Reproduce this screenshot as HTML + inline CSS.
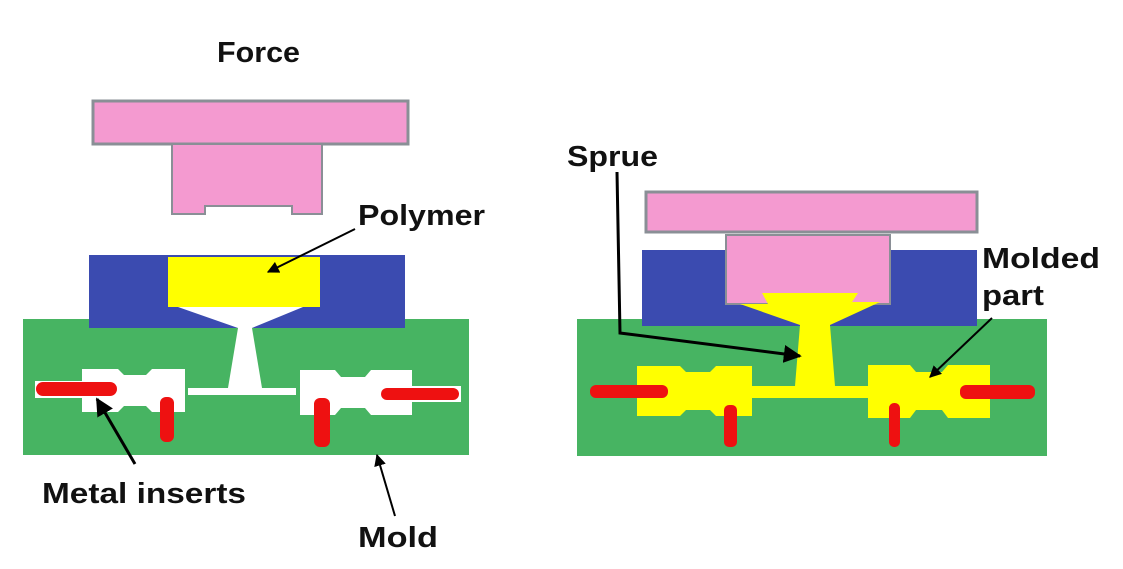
<!DOCTYPE html>
<html><head><meta charset="utf-8"><style>
html,body{margin:0;padding:0;background:#fff;width:1123px;height:569px;overflow:hidden}
svg{display:block}
text{font-family:"Liberation Sans",sans-serif;font-weight:bold;font-size:29px;fill:#111}
</style></head><body>
<svg width="1123" height="569" viewBox="0 0 1123 569">
<defs>
<marker id="ah" viewBox="0 0 10 10" refX="9" refY="5" markerWidth="6" markerHeight="6" orient="auto"><path d="M0,0L10,5L0,10z" fill="#000"/></marker>
</defs>
<!-- LEFT -->
<rect x="93" y="101" width="315" height="43" fill="#f49ad0" stroke="#8a8f96" stroke-width="3"/>
<path d="M172,144H322V214H292V206H205V214H172Z" fill="#f49ad0" stroke="#8a8f96" stroke-width="2"/>
<rect x="23" y="319" width="446" height="136" fill="#47b462"/>
<rect x="89" y="255" width="316" height="73" fill="#3b4bb0"/>
<rect x="168" y="257" width="152" height="50" fill="#ffff00"/>
<path d="M178,307H303L252,328L262,388H296V395H188V388H228L238,328Z" fill="#fff"/>
<path d="M82,369H118L124,375H146L152,369H185V412H152L146,406H124L118,412H82Z" fill="#fff"/>
<rect x="35" y="381" width="83" height="17" fill="#fff"/>
<rect x="36" y="382" width="81" height="14" rx="7" fill="#ee1111"/>
<rect x="160" y="397" width="14" height="45" rx="6" fill="#ee1111"/>
<path d="M300,370H335L341,377H365L371,370H412V415H371L365,408H341L335,415H300Z" fill="#fff"/>
<rect x="380" y="386" width="81" height="16" fill="#fff"/>
<rect x="381" y="388" width="78" height="12" rx="6" fill="#ee1111"/>
<rect x="314" y="398" width="16" height="49" rx="6" fill="#ee1111"/>
<!-- RIGHT -->
<rect x="646" y="192" width="331" height="40" fill="#f49ad0" stroke="#8a8f96" stroke-width="3"/>
<rect x="577" y="319" width="470" height="137" fill="#47b462"/>
<rect x="642" y="250" width="335" height="76" fill="#3b4bb0"/>
<rect x="726" y="235" width="164" height="69" fill="#f49ad0" stroke="#8a8f96" stroke-width="2"/>
<path d="M762,293H858L852,302H880L830,325L835,386H880V398H750V386H795L800,325L740,304H768Z" fill="#ffff00"/>
<path d="M637,366H680L686,372H710L716,366H752V416H716L710,410H686L680,416H637Z" fill="#ffff00"/>
<path d="M868,365H910L916,372H942L948,365H990V418H948L942,410H916L910,418H868Z" fill="#ffff00"/>
<rect x="590" y="385" width="78" height="13" rx="6" fill="#ee1111"/>
<rect x="960" y="385" width="75" height="14" rx="6" fill="#ee1111"/>
<rect x="724" y="405" width="13" height="42" rx="5" fill="#ee1111"/>
<rect x="889" y="403" width="11" height="44" rx="5" fill="#ee1111"/>
<!-- arrows -->
<g stroke="#000" stroke-width="2" fill="none">
<line x1="355" y1="229" x2="268" y2="272" marker-end="url(#ah)"/>
<line x1="135" y1="464" x2="97" y2="399" marker-end="url(#ah)" stroke-width="3"/>
<line x1="395" y1="516" x2="377" y2="455" marker-end="url(#ah)"/>
<polyline points="617,172 620,333 800,356" marker-end="url(#ah)" stroke-width="3"/>
<line x1="992" y1="318" x2="930" y2="377" marker-end="url(#ah)"/>
</g>
<text x="217" y="62" textLength="83" lengthAdjust="spacingAndGlyphs">Force</text>
<text x="358" y="225" textLength="127" lengthAdjust="spacingAndGlyphs">Polymer</text>
<text x="42" y="503" textLength="204" lengthAdjust="spacingAndGlyphs">Metal inserts</text>
<text x="358" y="547" textLength="80" lengthAdjust="spacingAndGlyphs">Mold</text>
<text x="567" y="166" textLength="91" lengthAdjust="spacingAndGlyphs">Sprue</text>
<text x="982" y="268" textLength="118" lengthAdjust="spacingAndGlyphs">Molded</text>
<text x="982" y="305" textLength="62" lengthAdjust="spacingAndGlyphs">part</text>
</svg>
</body></html>
